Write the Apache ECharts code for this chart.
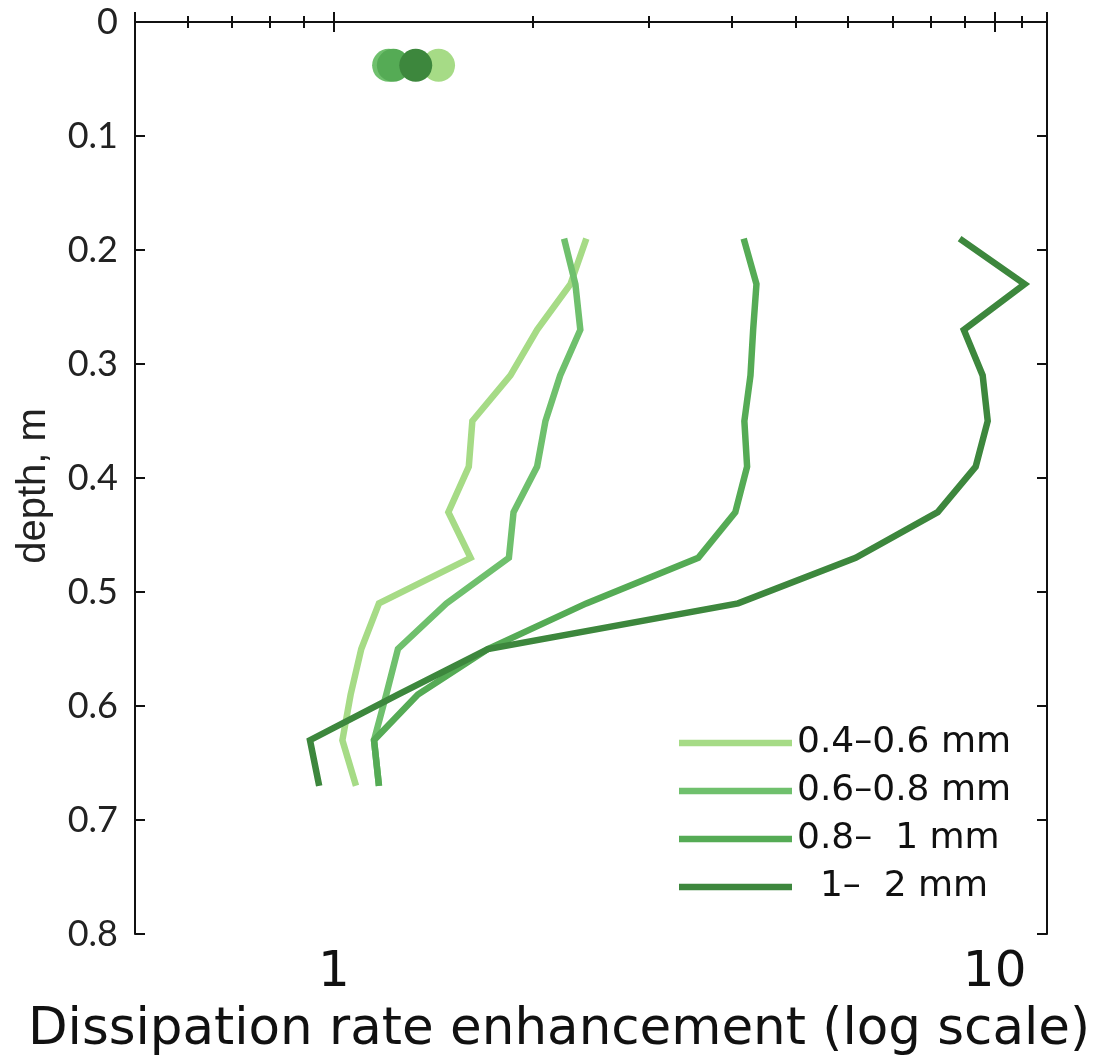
<!DOCTYPE html>
<html>
<head>
<meta charset="utf-8">
<style>
  html, body { margin: 0; padding: 0; background: #ffffff; }
  #chart { width: 1094px; height: 1063px; }
</style>
<script src="https://cdn.jsdelivr.net/npm/echarts@6/dist/echarts.min.js"></script>
</head>
<body>
<div id="chart"></div>
<script>
// Depth levels (m) of the profile samples
const depths = [0.19, 0.23, 0.27, 0.31, 0.35, 0.39, 0.43, 0.47, 0.51, 0.55, 0.59, 0.63, 0.67];

// Dissipation rate enhancement per bubble size class
const size04to06 = [2.41, 2.28, 2.03, 1.85, 1.62, 1.60, 1.49, 1.61, 1.17, 1.10, 1.06, 1.03, 1.08];
const size06to08 = [2.23, 2.32, 2.36, 2.20, 2.09, 2.03, 1.87, 1.84, 1.48, 1.25, 1.20, 1.15, 1.17];
const size08to10 = [4.17, 4.36, 4.31, 4.27, 4.18, 4.22, 4.05, 3.56, 2.41, 1.71, 1.34, 1.15, 1.17];
const size10to20 = [8.85, 11.1, 8.98, 9.59, 9.76, 9.36, 8.20, 6.16, 4.09, 1.71, 1.25, 0.92, 0.95];

// Near-surface values, one per size class
const surfaceDepth = 0.038;
const surfaceValues = [1.44, 1.21, 1.23, 1.33];

const classNames = ['0.4\u20130.6 mm', '0.6\u20130.8 mm', '0.8\u2013  1 mm', '  1\u2013  2 mm'];
const classColors = ['#a6db86', '#6fc06d', '#55ab55', '#3d873d'];
const profiles = [size04to06, size06to08, size08to10, size10to20];

// Tick positions on the log axis
const majorTicks = [1, 10];
const minorTicks = [0.6, 0.7, 0.8, 0.9, 2, 3, 4, 5, 6, 7, 8, 9, 11];

const chart = echarts.init(document.getElementById('chart'), null, { renderer: 'canvas' });

const frameLine = { show: true, lineStyle: { color: '#111', width: 2 } };
const xBase = { type: 'log', logBase: 10, min: 0.5, max: 12, gridIndex: 0, splitLine: { show: false } };

const series = [];
profiles.forEach((vals, i) => {
  series.push({
    name: classNames[i],
    type: 'line',
    xAxisIndex: 0,
    yAxisIndex: 0,
    data: vals.map((v, k) => [v, depths[k]]),
    showSymbol: false,
    symbol: 'none',
    lineStyle: { color: classColors[i], width: 6.5, join: 'miter' },
    itemStyle: { color: classColors[i] },
    z: 2 + i,
    silent: true
  });
});
surfaceValues.forEach((v, i) => {
  series.push({
    name: 'surface ' + i,
    type: 'scatter',
    xAxisIndex: 0,
    yAxisIndex: 0,
    data: [[v, surfaceDepth]],
    symbol: 'circle',
    symbolSize: 33,
    itemStyle: { color: classColors[i], opacity: 1 },
    z: 10 + i,
    silent: true
  });
});

const option = {
  animation: false,
  backgroundColor: '#ffffff',
  grid: { left: 135, right: 47, top: 22, bottom: 129, containLabel: false, outerBoundsMode: 'none' },
  legend: {
    data: classNames.map(n => ({ name: n })),
    orient: 'vertical',
    left: 674,
    top: 718,
    icon: 'rect',
    itemWidth: 113,
    itemHeight: 6.5,
    itemGap: 8,
    selectedMode: false,
    textStyle: { fontFamily: 'DejaVu Sans', fontSize: 36, color: '#111', lineHeight: 40, padding: [0, 0, 0, 0] }
  },
  // rotated y-axis title
  graphic: [{
    type: 'text',
    x: 34,
    y: 486,
    rotation: Math.PI / 2,
    silent: true,
    style: {
      text: 'depth, m',
      fontFamily: 'Liberation Sans',
      fontSize: 40,
      fill: '#222',
      align: 'center',
      verticalAlign: 'middle'
    }
  }],
  xAxis: [
    Object.assign({}, xBase, {
      position: 'bottom',
      axisLine: frameLine,
      axisTick: { show: true, inside: true, length: 10, lineStyle: { color: '#111', width: 2 } },
      axisLabel: {
        show: true,
        margin: 14,
        fontFamily: 'DejaVu Sans',
        fontSize: 50,
        color: '#111',
        formatter: v => (majorTicks.some(t => Math.abs(t - v) < 1e-6) ? String(Math.round(v)) : '')
      },
      name: 'Dissipation rate enhancement (log scale)',
      nameLocation: 'middle',
      nameGap: 71,
      nameTextStyle: { fontFamily: 'DejaVu Sans', fontSize: 51.5, color: '#111', padding: [0, 64, 0, 0] }
    }),
    Object.assign({}, xBase, {
      position: 'bottom',
      axisLine: { show: false },
      axisTick: { show: true, inside: true, length: 6, customValues: minorTicks, lineStyle: { color: '#111', width: 2 } },
      axisLabel: { show: false }
    }),
    Object.assign({}, xBase, {
      position: 'top',
      axisLine: frameLine,
      axisTick: { show: true, inside: true, length: 10, lineStyle: { color: '#111', width: 2 } },
      axisLabel: { show: false }
    }),
    Object.assign({}, xBase, {
      position: 'top',
      axisLine: { show: false },
      axisTick: { show: true, inside: true, length: 6, customValues: minorTicks, lineStyle: { color: '#111', width: 2 } },
      axisLabel: { show: false }
    })
  ],
  yAxis: [
    {
      type: 'value',
      inverse: true,
      min: 0,
      max: 0.8,
      interval: 0.1,
      position: 'left',
      axisLine: frameLine,
      axisTick: { show: true, inside: true, length: 10, lineStyle: { color: '#111', width: 2 } },
      splitLine: { show: false },
      axisLabel: {
        margin: 17,
        fontFamily: 'Lato',
        fontSize: 36,
        color: '#222',
        formatter: v => (Math.abs(v) < 1e-9 ? '0' : v.toFixed(1))
      }
    },
    {
      type: 'value',
      inverse: true,
      min: 0,
      max: 0.8,
      interval: 0.1,
      position: 'right',
      axisLine: frameLine,
      axisTick: { show: true, inside: true, length: 10, lineStyle: { color: '#111', width: 2 } },
      splitLine: { show: false },
      axisLabel: { show: false }
    }
  ],
  series: series
};

chart.setOption(option);
</script>
</body>
</html>
